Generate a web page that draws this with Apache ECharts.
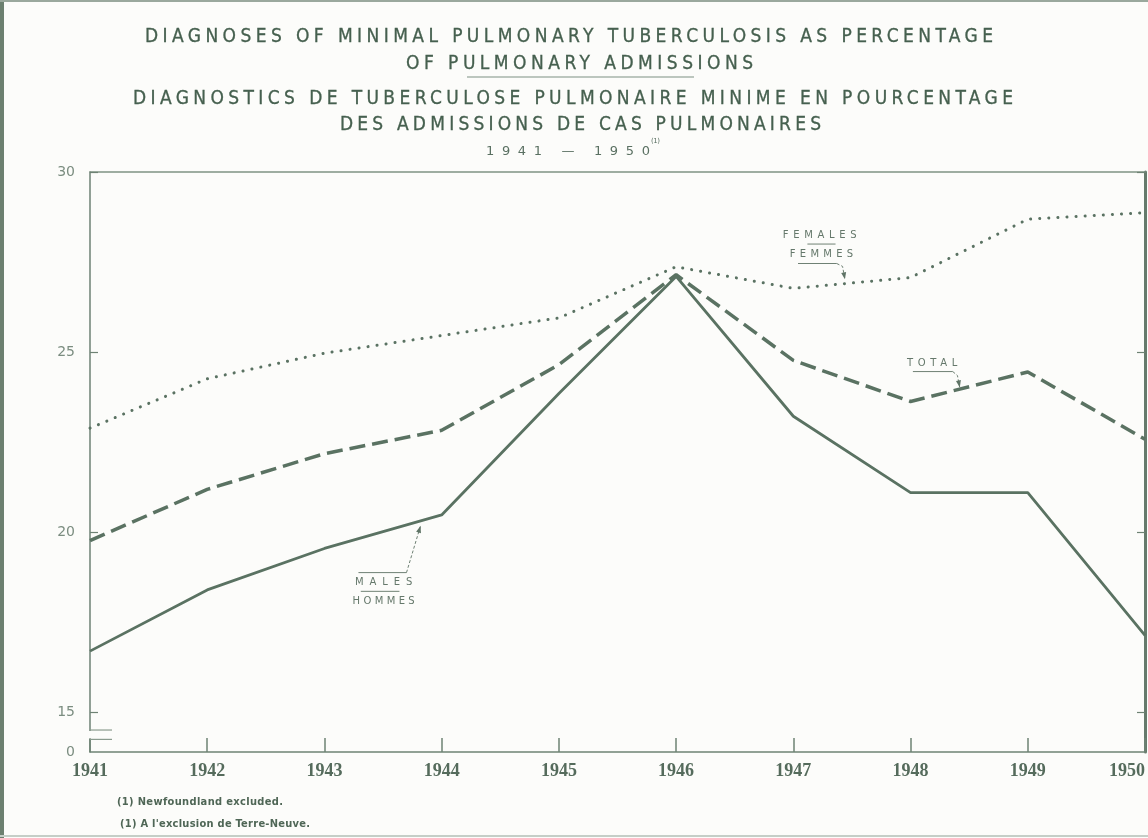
<!DOCTYPE html>
<html>
<head>
<meta charset="utf-8">
<script src="https://cdn.jsdelivr.net/npm/echarts@6/dist/echarts.min.js"></script>
<style>
html, body { margin: 0; padding: 0; background: #fcfcfa; }
#wrap { position: relative; width: 1148px; height: 838px; overflow: hidden; }
#chart { position: absolute; left: 0; top: 0; width: 1148px; height: 838px; }
#overlay { position: absolute; left: 0; top: 0; width: 1148px; height: 838px; pointer-events: none; }
#overlay span { position: absolute; white-space: nowrap; line-height: 1; }
.t { font-family: 'Liberation Sans Narrow', 'DejaVu Sans Condensed', sans-serif; font-size: 19px; color: #46604f; -webkit-text-stroke: 0.3px #46604f; }
.sub { font-family: 'DejaVu Sans', sans-serif; font-size: 13px; color: #5a7062; }
.sup { font-family: 'DejaVu Sans', sans-serif; font-size: 7px; color: #5a7062; }
.ann { font-family: 'DejaVu Sans', sans-serif; font-size: 10px; color: #65786b; }
.fn { font-family: 'Liberation Sans Narrow', 'DejaVu Sans Condensed', sans-serif; font-weight: bold; font-size: 11px; color: #4f6656; }
</style>
</head>
<body>
<div id="wrap">
    <div id="chart"></div>
    <div id="overlay"></div>
</div>
<script>
// data (percent)
const years = [1941, 1942, 1943, 1944, 1945, 1946, 1947, 1948, 1949, 1950];
const males = [16.7, 18.4, 19.55, 20.48, 23.85, 27.1, 23.22, 21.1, 21.1, 17.14];
const total = [19.77, 21.19, 22.18, 22.83, 24.65, 27.15, 24.77, 23.63, 24.45, 22.58];
const females = [22.89, 24.26, 24.97, 25.46, 25.95, 27.37, 26.77, 27.07, 28.69, 28.87];
const yTicks = [15, 20, 25, 30];
const yBase = 13.9; // bottom of the broken axis, labelled "0"

const ink = '#5a7262';
const axisInk = '#6e8274';

const titleLines = [
    { text: 'DIAGNOSES OF MINIMAL PULMONARY TUBERCULOSIS AS PERCENTAGE', x0: 145, x1: 993, cy: 35, cls: 't' },
    { text: 'OF PULMONARY ADMISSIONS', x0: 406, x1: 753, cy: 62, cls: 't' },
    { text: 'DIAGNOSTICS DE TUBERCULOSE PULMONAIRE MINIME EN POURCENTAGE', x0: 133, x1: 1013, cy: 97, cls: 't' },
    { text: 'DES ADMISSIONS DE CAS PULMONAIRES', x0: 340, x1: 821, cy: 123, cls: 't' },
    { text: '1941 — 1950', x0: 486, x1: 650, cy: 150, cls: 'sub' },
    { text: '(1)', x0: 651, x1: 660, cy: 141, cls: 'sup' },
    { text: '(1) Newfoundland excluded.', x0: 117, x1: 283, cy: 801, cls: 'fn' },
    { text: "(1) A l'exclusion de Terre-Neuve.", x0: 120, x1: 310, cy: 823, cls: 'fn' }
];

// series labels, in data coordinates [yearFrom, yearTo, value]
const seriesNotes = [
    { text: 'MALES', span: [1943.26, 1943.75, 18.61] },
    { text: 'HOMMES', span: [1943.24, 1943.77, 18.08] },
    { text: 'FEMALES', span: [1946.91, 1947.54, 28.25] },
    { text: 'FEMMES', span: [1946.97, 1947.51, 27.73] },
    { text: 'TOTAL', span: [1947.97, 1948.40, 24.69] }
];
// rules and leaders, in data coordinates
const noteRules = [
    [[1943.29, 18.88], [1943.70, 18.88]],
    [[1943.31, 18.36], [1943.64, 18.36]],
    [[1947.12, 28.0], [1947.36, 28.0]],
    [[1947.04, 27.46], [1947.37, 27.46]],
    [[1948.02, 24.46], [1948.36, 24.46]]
];
const noteLeaders = [
    [[1943.70, 18.88], [1943.82, 20.18]],
    [[1947.37, 27.46], [1947.42, 27.38], [1947.44, 27.02]],
    [[1948.36, 24.46], [1948.40, 24.35], [1948.42, 24.02]]
];

const pairs = arr => years.map((y, i) => [y, arr[i]]);

const chart = echarts.init(document.getElementById('chart'));
const option = {
    backgroundColor: '#fcfcfa',
    animation: false,
    grid: { left: 90, right: 3, top: 172, bottom: 86, outerBoundsMode: 'none', containLabel: false },
    xAxis: [
        {
            type: 'value',
            min: 1941,
            max: 1950,
            interval: 1,
            position: 'bottom',
            axisLine: { show: true, lineStyle: { color: axisInk, width: 1.5 } },
            axisTick: { show: true, inside: true, length: 14, lineStyle: { color: axisInk, width: 1.5 } },
            axisLabel: {
                margin: 10,
                color: '#556b5c',
                fontFamily: 'Liberation Serif',
                fontWeight: 'bold',
                fontSize: 18,
                alignMaxLabel: 'right',
                formatter: v => String(v)
            },
            splitLine: { show: false }
        },
        {
            type: 'value',
            min: 1941,
            max: 1950,
            position: 'top',
            axisLine: { show: true, lineStyle: { color: '#7f9284', width: 1.5 } },
            axisTick: { show: false },
            axisLabel: { show: false },
            splitLine: { show: false }
        }
    ],
    yAxis: [
        {
            type: 'value',
            min: yBase,
            max: 30,
            position: 'left',
            axisLine: { show: true, lineStyle: { color: axisInk, width: 1.5 } },
            axisTick: { show: true, inside: true, length: 8, customValues: yTicks, lineStyle: { color: axisInk, width: 1.2 } },
            axisLabel: {
                customValues: [yBase].concat(yTicks),
                formatter: v => (v === yBase ? '0' : String(v)),
                margin: 15,
                color: '#7b8d80',
                fontFamily: 'DejaVu Sans',
                fontSize: 14
            },
            splitLine: { show: false }
        },
        {
            type: 'value',
            min: yBase,
            max: 30,
            position: 'right',
            axisLine: { show: true, lineStyle: { color: '#667a6c', width: 3 } },
            axisTick: { show: true, inside: true, length: 8, customValues: yTicks, lineStyle: { color: axisInk, width: 1.2 } },
            axisLabel: { show: false },
            splitLine: { show: false }
        }
    ],
    series: [
        {
            name: 'Females',
            type: 'line',
            data: pairs(females),
            symbol: 'none',
            lineStyle: { color: ink, width: 3, type: [0.1, 9], cap: 'round' }
        },
        {
            name: 'Total',
            type: 'line',
            data: pairs(total),
            symbol: 'none',
            lineStyle: { color: ink, width: 3.5, type: [16, 7] }
        },
        {
            name: 'Males',
            type: 'line',
            data: pairs(males),
            symbol: 'none',
            lineStyle: { color: ink, width: 2.8 }
        }
    ]
};
chart.setOption(option);

// decorations placed through the chart's own scales
const px = p => chart.convertToPixel({ xAxisIndex: 0, yAxisIndex: 0 }, p);
const gfx = [];

// page frame
gfx.push({ type: 'rect', shape: { x: 0, y: 0, width: 4, height: 838 }, style: { fill: '#6c8070' }, z: 10 });
gfx.push({ type: 'rect', shape: { x: 0, y: 0, width: 1148, height: 2 }, style: { fill: '#9aa89d' }, z: 10 });
gfx.push({ type: 'rect', shape: { x: 0, y: 835, width: 1148, height: 2 }, style: { fill: '#c5cec7' }, z: 10 });

// divider under the English title
gfx.push({ type: 'line', shape: { x1: 467, y1: 77, x2: 694, y2: 77 }, style: { stroke: '#7d8f82', lineWidth: 1.2 }, z: 10 });

// axis break between 15 and 0
const brTop = px([1941, 14.51]);
const brBot = px([1941, 14.25]);
gfx.push({ type: 'rect', shape: { x: brTop[0] - 3, y: brTop[1] + 1, width: 6, height: brBot[1] - brTop[1] - 2 }, style: { fill: '#fcfcfa' }, z: 20 });
[brTop, brBot].forEach(p => {
    gfx.push({ type: 'line', shape: { x1: p[0], y1: p[1], x2: p[0] + 22, y2: p[1] }, style: { stroke: '#8a9b8e', lineWidth: 1.2 }, z: 20 });
});

noteRules.forEach(r => {
    const a = px(r[0]), b = px(r[1]);
    gfx.push({ type: 'line', shape: { x1: a[0], y1: a[1], x2: b[0], y2: b[1] }, style: { stroke: '#6f8174', lineWidth: 1 }, z: 10 });
});
noteLeaders.forEach(l => {
    const pts = l.map(px);
    gfx.push({ type: 'polyline', shape: { points: pts }, style: { stroke: '#6f8174', lineWidth: 1, fill: null, lineDash: [3, 2] }, z: 10 });
    const tip = pts[pts.length - 1], prev = pts[pts.length - 2];
    const dx = tip[0] - prev[0], dy = tip[1] - prev[1];
    const len = Math.hypot(dx, dy) || 1;
    const ux = dx / len, uy = dy / len;
    gfx.push({
        type: 'polygon',
        shape: {
            points: [
                tip,
                [tip[0] - ux * 7 - uy * 2.5, tip[1] - uy * 7 + ux * 2.5],
                [tip[0] - ux * 7 + uy * 2.5, tip[1] - uy * 7 - ux * 2.5]
            ]
        },
        style: { fill: '#5f7466' },
        z: 10
    });
});
chart.setOption({ graphic: gfx });

// letter-spaced texts
const overlay = document.getElementById('overlay');
function place(text, x0, x1, cy, cls) {
    const s = document.createElement('span');
    s.className = cls;
    s.textContent = text;
    overlay.appendChild(s);
    const r = s.getBoundingClientRect();
    const n = Array.from(text).length;
    const ls = n > 1 ? (x1 - x0 - r.width) / (n - 1) : 0;
    s.style.letterSpacing = ls + 'px';
    s.style.left = x0 + 'px';
    s.style.top = (cy - r.height / 2) + 'px';
}
titleLines.forEach(t => place(t.text, t.x0, t.x1, t.cy, t.cls));
seriesNotes.forEach(n => {
    const a = px([n.span[0], n.span[2]]);
    const b = px([n.span[1], n.span[2]]);
    place(n.text, a[0], b[0], a[1], 'ann');
});
</script>
</body>
</html>
